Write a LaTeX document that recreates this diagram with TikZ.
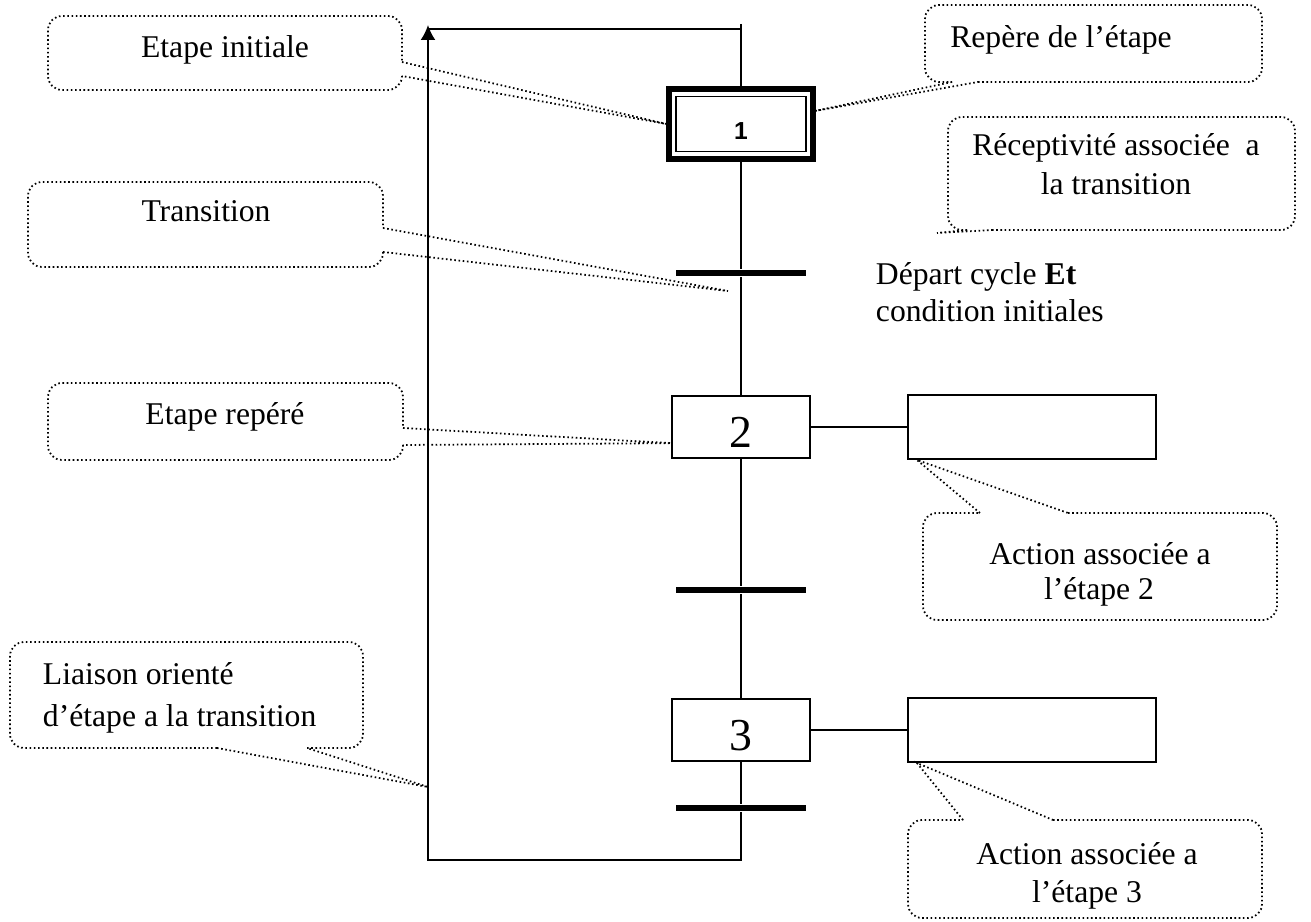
\documentclass[tikz,border=0pt]{standalone}
\usepackage{fontspec}
\setmainfont{Liberation Serif}
\newfontfamily\arialfont{Liberation Sans}
\usetikzlibrary{arrows.meta}

\tikzset{
	etape/.style={draw, minimum width=1.38cm, minimum height=0.62cm, inner sep=0pt,
		font=\fontsize{13}{15}\selectfont, text height=11.8pt, text depth=0pt},
	action/.style={draw, minimum width=2.48cm, minimum height=0.64cm, inner sep=0pt},
	barre/.style={fill=black, minimum width=1.30cm, minimum height=0.065cm, inner sep=0pt},
	bulle/.style={line width=0.5pt, dash pattern=on 0.45pt off 0.75pt},
	texte/.style={anchor=base, inner sep=0pt, font=\fontsize{9}{11}\selectfont},
}

\begin{document}
\begin{tikzpicture}[x=0.01cm, y=-0.01cm, line width=0.55pt]
		\useasboundingbox (0,0) rectangle (1311,922);
		% etapes, transitions et actions
		\node[etape, line width=1.7pt, minimum width=1.43cm, minimum height=0.70cm] (s1) at (741,124) {};
		\node[etape, minimum width=1.29cm, minimum height=0.55cm, font=\arialfont\bfseries\fontsize{7}{8}\selectfont, text height=9pt] (s1i) at (741,124) {1};
		\node[barre] (t1) at (741,273) {};
		\node[etape] (s2) at (741,427) {2};
		\node[barre] (t2) at (741,590) {};
		\node[etape] (s3) at (741,730) {3};
		\node[barre] (t3) at (741,808) {};
		\node[action] (a2) at (1032,427) {};
		\node[action] (a3) at (1032,730) {};
		\coordinate (sommet) at (741,24);
		\coordinate (entree) at (741,29);
		\coordinate (bas) at (741,860);
		\coordinate (coin) at (428,860);
		\coordinate (fleche) at (428,25);
		\coordinate (retour) at (428,29);
		\draw (sommet) -- (s1) (s1) -- (t1) -- (s2) -- (t2) -- (s3) -- (t3);
		\draw[-{Latex[length=0.15cm, width=0.15cm]}] (t3) -- (bas) -- (coin) -- (fleche);
		\draw (retour) -- (entree);
		\draw (s2) -- (a2);
		\draw (s3) -- (a3);
		% bulles
		\draw[bulle, rounded corners=4pt] (402,76) -- (402,90) -- (48,90) -- (48,16) -- (402,16) -- (402,62);
		\draw[bulle] (402,62) -- (s1.west) -- (402,76);
		\draw[bulle, rounded corners=4pt] (978,82) -- (1262,82) -- (1262,5) -- (925,5) -- (925,82) -- (952,82);
		\draw[bulle] (952,82) -- (s1.10) -- (978,82);
		\coordinate (recept) at (937,233);
		\draw[bulle, rounded corners=4pt] (992,230) -- (1295,230) -- (1295,117) -- (948,117) -- (948,230) -- (967,230);
		\draw[bulle] (967,230) -- (recept) -- (992,230);
		\coordinate (trans) at (728,291);
		\draw[bulle, rounded corners=4pt] (383,252) -- (383,267) -- (28,267) -- (28,182) -- (383,182) -- (383,228);
		\draw[bulle] (383,228) -- (trans) -- (383,252);
		\draw[bulle, rounded corners=4pt] (403,445) -- (403,460) -- (48,460) -- (48,383) -- (403,383) -- (403,428);
		\draw[bulle] (403,428) -- (s2.193) -- (403,445);
		\draw[bulle, rounded corners=4pt] (1068,513) -- (1277,513) -- (1277,620) -- (923,620) -- (923,513) -- (980,513);
		\draw[bulle] (980,513) -- (a2.196) -- (1068,513);
		\draw[bulle, rounded corners=4pt] (1053,820) -- (1262,820) -- (1262,918) -- (908,918) -- (908,820) -- (963,820);
		\draw[bulle] (963,820) -- (a3.196) -- (1053,820);
		\coordinate (liaison) at (428,787);
		\draw[bulle, rounded corners=4pt] (307,748) -- (363,748) -- (363,642) -- (10,642) -- (10,748) -- (217,748);
		\draw[bulle] (217,748) -- (liaison) -- (307,748);
		% textes
		\node[texte] (l-init) at (225,58) {Etape initiale};
		\node[texte] (l-repere) at (1061,48) {Repère de l’étape};
		\node[texte] (l-recept1) at (1116,156) {Réceptivité associée~ a};
		\node[texte] (l-recept2) at (1116,195) {la transition};
		\node[texte] (l-trans) at (206,222) {Transition};
		\node[texte, anchor=base west] (l-depart1) at (875,285) {Départ cycle \textbf{Et}};
		\node[texte, anchor=base west] (l-depart2) at (875,322) {condition initiales};
		\node[texte] (l-rep2) at (225,425) {Etape repéré};
		\node[texte] (l-act2a) at (1100,565) {Action associée a};
		\node[texte] (l-act2b) at (1099,600) {l’étape 2};
		\node[texte] (l-act3a) at (1087,865) {Action associée a};
		\node[texte] (l-act3b) at (1087,903) {l’étape 3};
		\node[texte, anchor=base west] (l-liaison1) at (42,685) {Liaison orienté};
		\node[texte, anchor=base west] (l-liaison2) at (42,727) {d’étape a la transition};
	\end{tikzpicture}
\end{document}
